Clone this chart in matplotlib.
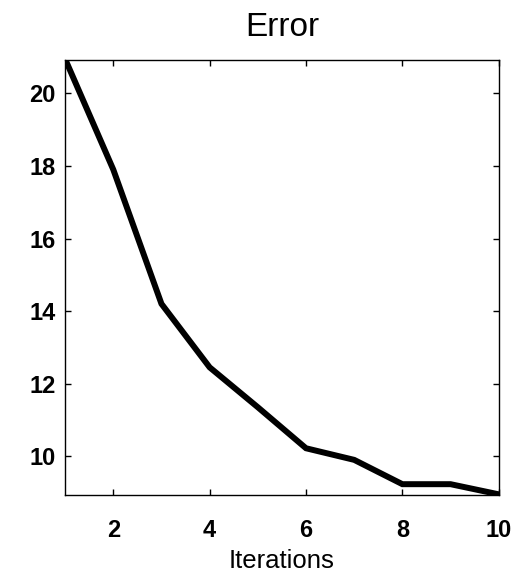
import matplotlib.pyplot as plt

iterations = [1, 2, 3, 4, 5, 6, 7, 8, 9, 10]
error = [20.95, 17.9, 14.2, 12.45, 11.35, 10.22, 9.9, 9.23, 9.23, 8.95]

plt.rcParams['font.family'] = ['Liberation Sans', 'DejaVu Sans']

fig = plt.figure(figsize=(5.25, 5.77), dpi=100)
ax = fig.add_axes([0.124, 0.142, 0.826, 0.754])

ax.plot(iterations, error, color='black', linewidth=4.3, solid_joinstyle='miter')

ax.set_xlim(1, 10)
ax.set_ylim(8.93, 20.92)
ax.set_xticks([2, 4, 6, 8, 10])
ax.set_yticks([10, 12, 14, 16, 18, 20])
ax.tick_params(direction='in', top=True, right=True, length=4, width=1,
               labelsize=17)
ax.tick_params(axis='x', pad=17)
ax.tick_params(axis='y', pad=7)
for lbl in ax.get_xticklabels() + ax.get_yticklabels():
    lbl.set_fontweight('bold')
for s in ax.spines.values():
    s.set_linewidth(1)

ax.set_title('Error', fontsize=24, pad=17)
ax.set_xlabel('Iterations', fontsize=18.5, labelpad=5)

fig.savefig('out.png', dpi=100)
